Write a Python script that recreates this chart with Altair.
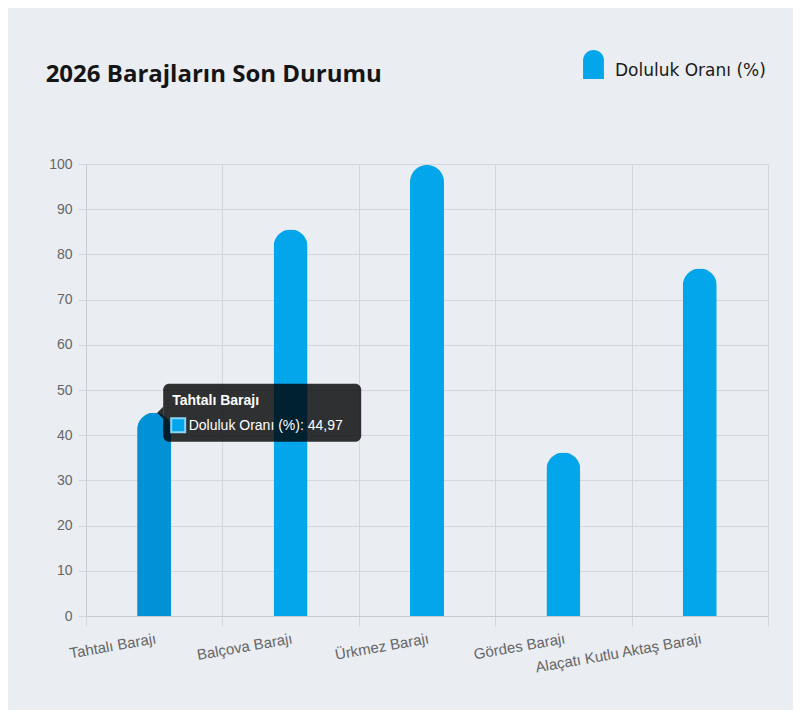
import altair as alt
import pandas as pd

categories = ["Tahtalı Barajı", "Balçova Barajı", "Ürkmez Barajı", "Gördes Barajı", "Alaçatı Kutlu Aktaş Barajı"]
values = [44.97, 85.5, 99.8, 36.2, 76.9]
series_name = "Doluluk Oranı (%)"
hovered = "Tahtalı Barajı"
title_text = "2026 Barajların Son Durumu"
y_ticks = list(range(0, 101, 10))

df = pd.DataFrame({"baraj": categories, "oran": values})
df["seri"] = series_name
df["etiket"] = [series_name + ": " + f"{v:.2f}".replace(".", ",") for v in values]

x_enc = alt.X(
    "baraj:N", sort=categories,
    scale=alt.Scale(paddingInner=0, paddingOuter=0),
    axis=alt.Axis(title=None, tickBand="extent", labelAngle=-10, labelAlign="right",
                  labelBaseline="top", tickSize=10, labelPadding=5, grid=True, labelFontSize=15),
)
y_enc = alt.Y(
    "oran:Q", scale=alt.Scale(domain=[0, 100], nice=False),
    axis=alt.Axis(title=None, values=y_ticks, tickSize=8, labelPadding=6, grid=True),
)

base = alt.Chart(df)

legend_shape = "M-0.72,0.59 L-0.72,-0.69 A0.72,0.72 0 0 1 0.72,-0.69 L0.72,0.59 Z"

bars = base.mark_bar(width=34, cornerRadiusTopLeft=17, cornerRadiusTopRight=17).encode(
    x=x_enc, y=y_enc,
    color=alt.Color("seri:N", scale=alt.Scale(range=["#03a5eb"]),
                    legend=alt.Legend(title=None, orient="none", legendX=493, legendY=-108,
                                      symbolType=legend_shape,
                                      symbolSize=841, symbolStrokeWidth=0, labelFont="DejaVu Sans",
                                      labelFontSize=17, labelColor="#1a1a1a", labelOffset=7, padding=0)),
)

hov = base.transform_filter(alt.datum.baraj == hovered)

hover_bar = hov.mark_bar(width=34, cornerRadiusTopLeft=17, cornerRadiusTopRight=17,
                         color="#0092d5").encode(x=x_enc, y=y_enc)

tip_box = hov.mark_bar(width=198, xOffset=108, yOffset=-29, y2Offset=29, cornerRadius=6,
                       color="#000000", opacity=0.8).encode(x=x_enc, y=y_enc, y2="oran:Q")

tip_caret = hov.mark_point(shape="M0.5,-1 L-0.5,0 L0.5,1 Z", size=144, filled=True,
                           color="#000000", opacity=0.8, xOffset=6, strokeWidth=0).encode(x=x_enc, y=y_enc)

tip_swatch = hov.mark_point(shape="square", size=196, filled=True, fill="#03a5eb",
                            stroke="#8ad4f7", strokeWidth=2, opacity=1,
                            xOffset=24, yOffset=12.5).encode(x=x_enc, y=y_enc)

tip_title = hov.mark_text(align="left", baseline="alphabetic", dx=18, dy=-8, color="white",
                          font="Liberation Sans", fontSize=14, fontWeight="bold").encode(
    x=x_enc, y=y_enc, text="baraj:N")

tip_body = hov.mark_text(align="left", baseline="alphabetic", dx=34.5, dy=17, color="white",
                         font="Liberation Sans", fontSize=14).encode(
    x=x_enc, y=y_enc, text="etiket:N")

chart = alt.layer(bars, hover_bar, tip_box, tip_caret, tip_swatch, tip_title, tip_body).properties(
    width=682, height=452,
    autosize=alt.AutoSizeParams(type="none"),
    padding={"left": 78, "top": 156, "right": 25, "bottom": 94},
    background="#eaedf2",
    title=alt.TitleParams(title_text, anchor="start", frame="bounds", font="Open Sans",
                          fontSize=24, fontWeight="bold", color="#151515", offset=0,
                          baseline="alphabetic", dy=50, dx=-3),
).configure_axis(
    gridColor="#d3d6db", domainColor="#c8cbd0", tickColor="#d3d6db",
    labelFont="Liberation Sans", labelColor="#666666", labelFontSize=14,
).configure_view(stroke=None)

chart.save("out.html", embed_options={"renderer": "svg", "actions": False})
